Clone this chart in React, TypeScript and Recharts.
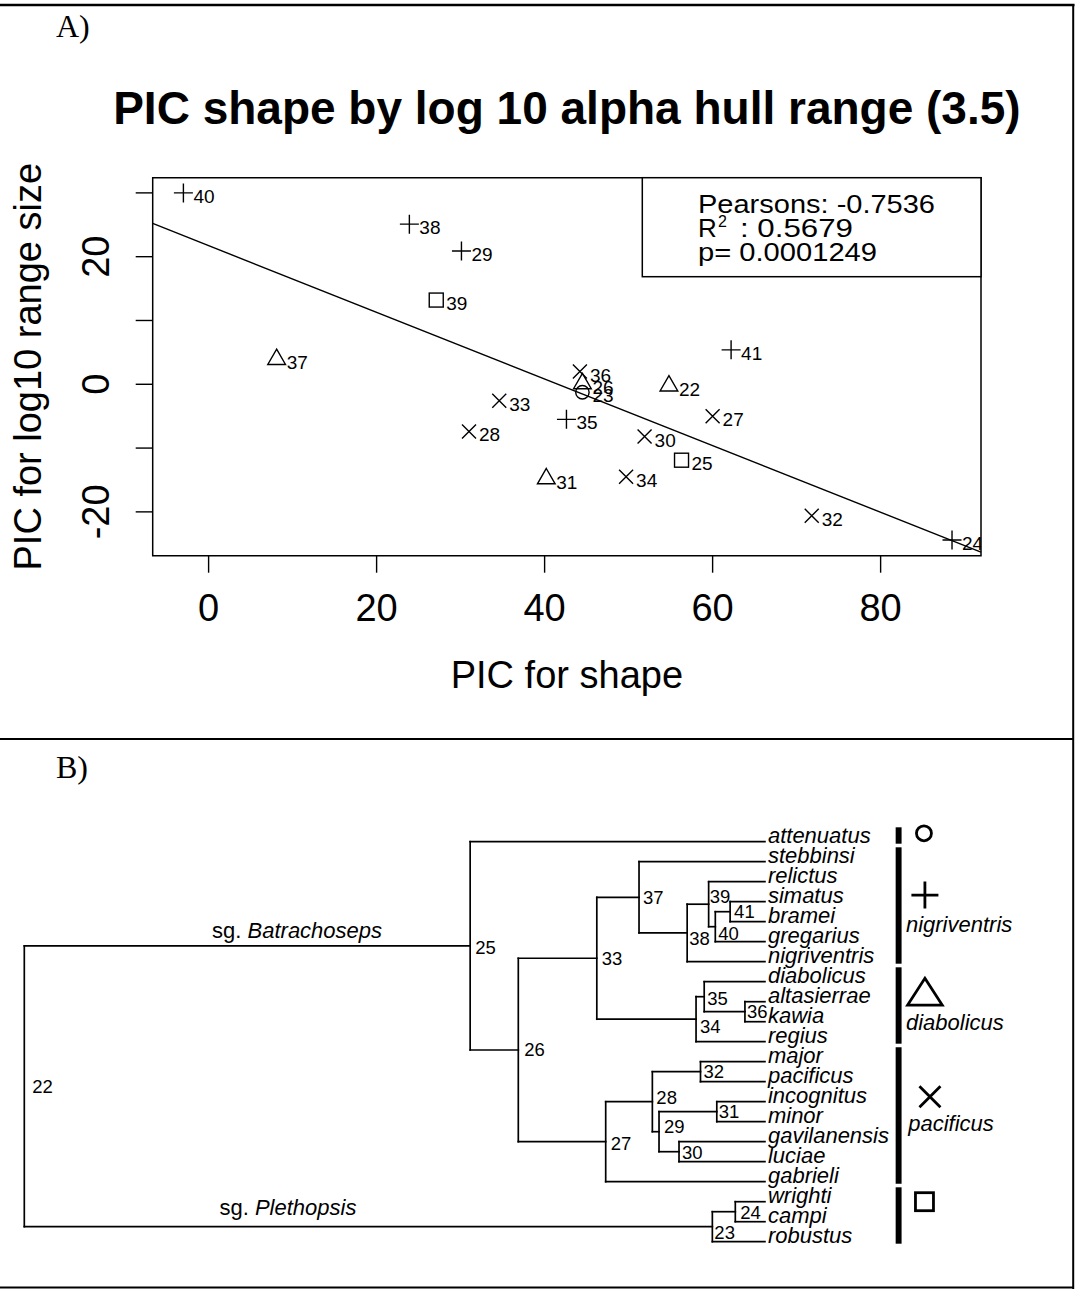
import React from 'react';
import { ScatterChart, Scatter, XAxis, YAxis, ReferenceLine, ReferenceArea, ReferenceDot } from 'recharts';

const SANS = '"Liberation Sans", Arial, Helvetica, sans-serif';
const SERIF = '"Liberation Serif", "Times New Roman", Times, serif';

// ---------------- Panel A data ----------------
const pointIds = [40, 38, 29, 39, 37, 36, 26, 23, 22, 41, 33, 28, 35, 27, 30, 25, 31, 34, 32, 24];
const picShape = [-3.0, 23.9, 30.1, 27.1, 8.1, 44.2, 44.5, 44.5, 54.8, 62.2, 34.6, 31.0, 42.6, 60.0, 51.9, 56.3, 40.2, 49.7, 71.8, 88.5];
const picRange = [30.0, 25.1, 20.9, 13.2, 3.9, 2.0, 0.1, -1.25, -0.25, 5.4, -2.6, -7.4, -5.5, -5.0, -8.2, -11.9, -14.8, -14.5, -20.6, -24.4];
const pointSymbols = ['plus', 'plus', 'plus', 'square', 'triangle', 'cross', 'triangle', 'circle', 'triangle', 'plus', 'cross', 'cross', 'plus', 'cross', 'cross', 'square', 'triangle', 'cross', 'cross', 'plus'];
const xTicksA = [0, 20, 40, 60, 80];
const yTicksA = [-20, -10, 0, 10, 20, 30];
const yTickLabelsA = [-20, 0, 20];
const xDomainA = [-6.655, 91.95];
const yDomainA = [-26.87, 32.38];
const fitIntercept = 21.73;
const fitSlope = -0.5224;
const pearsonText = 'Pearsons: -0.7536';
const rSquaredText = ': 0.5679';
const pValueText = 'p= 0.0001249';
const titleA = 'PIC shape by log 10 alpha hull range (3.5)';
const xLabelA = 'PIC for shape';
const yLabelA = 'PIC for log10 range size';

// ---------------- Panel B data ----------------
const tipNames = ['attenuatus', 'stebbinsi', 'relictus', 'simatus', 'bramei', 'gregarius', 'nigriventris', 'diabolicus', 'altasierrae', 'kawia', 'regius', 'major', 'pacificus', 'incognitus', 'minor', 'gavilanensis', 'luciae', 'gabrieli', 'wrighti', 'campi', 'robustus'];
const internalNodes = [22, 25, 26, 33, 37, 38, 39, 40, 41, 34, 35, 36, 27, 28, 32, 29, 31, 30, 23, 24];
const nodeChildren: (number | string)[][] = [
  [25, 23], ['attenuatus', 26], [33, 27], [37, 34], ['stebbinsi', 38], [39, 'nigriventris'], ['relictus', 40], [41, 'gregarius'], ['simatus', 'bramei'],
  [35, 'regius'], ['diabolicus', 36], ['altasierrae', 'kawia'], [28, 'gabrieli'], [32, 29], ['major', 'pacificus'], [31, 30], ['incognitus', 'minor'], ['gavilanensis', 'luciae'],
  [24, 'robustus'], ['wrighti', 'campi'],
];
const nodeDepth = [0, 0.602, 0.667, 0.773, 0.830, 0.895, 0.924, 0.933, 0.953, 0.907, 0.918, 0.973, 0.785, 0.848, 0.913, 0.857, 0.935, 0.884, 0.929, 0.960];
const tipDepth = 1;
const cladeNames = ['', 'nigriventris', 'diabolicus', 'pacificus', ''];
const cladeSymbols = ['circle', 'plus', 'triangle', 'cross', 'square'];
const cladeFirstTip = [0, 1, 7, 11, 18];
const cladeLastTip = [0, 6, 10, 17, 20];
const subgenusNames = ['Batrachoseps', 'Plethopsis'];

// ---------------- Layout (positions only) ----------------
const nodeLabelNudge: Record<number, [number, number]> = {
  22: [8, 0], 25: [5, 2], 26: [6, 0], 33: [5, 0], 37: [4, 0], 38: [2, 6], 39: [1, -8], 40: [3, 7], 41: [4, 0],
  34: [4, 7], 35: [3, 2], 36: [2, 0], 27: [5, 2], 28: [4, -4], 29: [5, -5], 30: [3, 1], 31: [2, 0], 32: [3, 0], 23: [2, 6], 24: [5, 1],
};
const cladeBarX = [1.1765, 1.1845];
const cladeSymbolPos: [number, number][] = [[1.2147, -0.42], [1.216, 2.67], [1.216, 7.5], [1.2228, 12.75], [1.2154, 18.0]];
const cladeLabelPos: [number, number][] = [[0, 0], [1.1904, 4.5], [1.1904, 9.42], [1.1935, 14.45], [0, 0]];
const subgenusLabelPos: [number, number][] = [[0.3683, 4.83], [0.356, 18.67]];

// ---------------- helpers ----------------
const childrenOf = new Map<number, (number | string)[]>(internalNodes.map((n, i) => [n, nodeChildren[i]]));
const depthOf = new Map<number, number>(internalNodes.map((n, i) => [n, nodeDepth[i]]));
function yOf(k: number | string): number {
  if (typeof k === 'string') return tipNames.indexOf(k);
  const ch = childrenOf.get(k)!;
  return (yOf(ch[0]) + yOf(ch[ch.length - 1])) / 2;
}
function xOf(k: number | string): number {
  return typeof k === 'string' ? tipDepth : (depthOf.get(k) as number);
}

type Dims = { plus: number; cross: number; square: number; circle: number; triW: number; triTop: number; triBot: number; sw: number };
const dimsA: Dims = { plus: 9.5, cross: 7, square: 7, circle: 6.7, triW: 8.85, triTop: 10.2, triBot: 5.1, sw: 1.4 };
const dimsB: Dims = { plus: 13.5, cross: 10.5, square: 9, circle: 7.5, triW: 17.3, triTop: 13.35, triBot: 13.35, sw: 2.8 };

function drawSymbol(sym: string, cx: number, cy: number, d: Dims) {
  const common = { fill: 'none', stroke: '#000', strokeWidth: d.sw };
  switch (sym) {
    case 'plus':
      return <path d={`M${cx - d.plus},${cy}H${cx + d.plus}M${cx},${cy - d.plus}V${cy + d.plus}`} {...common} />;
    case 'cross':
      return <path d={`M${cx - d.cross},${cy - d.cross}L${cx + d.cross},${cy + d.cross}M${cx - d.cross},${cy + d.cross}L${cx + d.cross},${cy - d.cross}`} {...common} />;
    case 'square':
      return <rect x={cx - d.square} y={cy - d.square} width={2 * d.square} height={2 * d.square} {...common} />;
    case 'circle':
      return <circle cx={cx} cy={cy} r={d.circle} {...common} />;
    case 'triangle':
      return <path d={`M${cx},${cy - d.triTop}L${cx + d.triW},${cy + d.triBot}L${cx - d.triW},${cy + d.triBot}Z`} {...common} strokeLinejoin="miter" />;
    default:
      return null;
  }
}

const renderPointA = (props: any) => {
  const { cx, cy, payload } = props;
  return (
    <g>
      {drawSymbol(payload.symbol, cx, cy, dimsA)}
      <text x={cx + 10} y={cy + 10} fontSize={19} fontFamily={SANS} fill="#000">{payload.id}</text>
    </g>
  );
};

const renderYTickA = (props: any) => {
  const { x, y, payload } = props;
  if (!yTickLabelsA.includes(payload.value)) return <g />;
  return (
    <text x={x} y={y} transform={`rotate(-90 ${x} ${y})`} textAnchor="middle" fontSize={38} fontFamily={SANS} fill="#000">
      {payload.value}
    </text>
  );
};

const renderTip = (props: any) => {
  const { cx, cy, payload } = props;
  return (
    <text x={cx + 3} y={cy + 1} fontSize={22} fontStyle="italic" fontFamily={SANS} fill="#000">{payload.name}</text>
  );
};

const renderNodeLabel = (props: any) => {
  const { cx, cy, payload } = props;
  const [dx, dy] = nodeLabelNudge[payload.id] || [5, 0];
  return (
    <text x={cx + dx} y={cy + dy} dominantBaseline="central" fontSize={18.5} fontFamily={SANS} fill="#000">{payload.id}</text>
  );
};

export default function App() {
  const pointsA = pointIds.map((id, i) => ({ id, x: picShape[i], y: picRange[i], symbol: pointSymbols[i] }));
  const fitSeg = [
    { x: xDomainA[0], y: fitIntercept + fitSlope * xDomainA[0] },
    { x: xDomainA[1], y: fitIntercept + fitSlope * xDomainA[1] },
  ];

  const tipsData = tipNames.map((name, i) => ({ x: tipDepth, y: i, name }));
  const nodesData = internalNodes.map((id) => ({ x: xOf(id), y: yOf(id), id }));
  const segments: { x: number; y: number }[][] = [];
  internalNodes.forEach((n) => {
    const ch = childrenOf.get(n)!;
    const x = xOf(n);
    segments.push([{ x, y: yOf(ch[0]) }, { x, y: yOf(ch[ch.length - 1]) }]);
    ch.forEach((c) => segments.push([{ x, y: yOf(c) }, { x: xOf(c), y: yOf(c) }]));
  });

  return (
    <div style={{ position: 'absolute', left: 0, top: 0, width: 1076, height: 1289, background: '#fff', overflow: 'hidden', fontFamily: SANS }}>
      {/* Panel A */}
      <div style={{ position: 'absolute', left: 0, top: 0 }}>
        <ScatterChart width={1076} height={739} margin={{ top: 177.7, right: 95, bottom: 83.3, left: 0 }}>
          <XAxis
            type="number" dataKey="x" domain={xDomainA} allowDataOverflow ticks={xTicksA} interval={0}
            axisLine={false} tickSize={17} tickMargin={21} height={100} stroke="#000"
            tickLine={{ stroke: '#000', strokeWidth: 1.4 }}
            tick={{ fontSize: 38, fill: '#000', fontFamily: SANS }}
          />
          <YAxis
            type="number" dataKey="y" domain={yDomainA} allowDataOverflow ticks={yTicksA} interval={0}
            axisLine={false} tickSize={17} tickMargin={26.7} width={152.7} stroke="#000"
            tickLine={{ stroke: '#000', strokeWidth: 1.4 }}
            tick={renderYTickA}
          />
          <ReferenceArea x1={xDomainA[0]} x2={xDomainA[1]} y1={yDomainA[0]} y2={yDomainA[1]} fill="none" fillOpacity={0} stroke="#000" strokeWidth={1.5} ifOverflow="visible" />
          <ReferenceLine segment={fitSeg} stroke="#000" strokeWidth={1.4} ifOverflow="visible" />
          <Scatter data={pointsA} shape={renderPointA} isAnimationActive={false} />
        </ScatterChart>
      </div>

      {/* Panel B */}
      <div style={{ position: 'absolute', left: 0, top: 740 }}>
        <ScatterChart width={1076} height={549} margin={{ top: 71.7, right: 0, bottom: 27.3, left: 24.3 }}>
          <XAxis type="number" dataKey="x" domain={[0, 1.42]} allowDataOverflow hide />
          <YAxis type="number" dataKey="y" domain={[-1.5, 21]} allowDataOverflow reversed hide />
          {segments.map((seg, i) => (
            <ReferenceLine key={`e${i}`} segment={seg} stroke="#000" strokeWidth={1.7} strokeLinecap="square" ifOverflow="visible" />
          ))}
          {cladeFirstTip.map((f, i) => (
            <ReferenceArea key={`bar${i}`} x1={cladeBarX[0]} x2={cladeBarX[1]} y1={f - 0.72} y2={cladeLastTip[i] + 0.1} fill="#000" fillOpacity={1} stroke="none" ifOverflow="visible" />
          ))}
          {cladeSymbols.map((s, i) => (
            <ReferenceDot key={`sym${i}`} x={cladeSymbolPos[i][0]} y={cladeSymbolPos[i][1]} ifOverflow="visible"
              shape={(p: any) => drawSymbol(s, p.cx, p.cy, dimsB)} />
          ))}
          {cladeNames.map((n, i) => n ? (
            <ReferenceDot key={`cl${i}`} x={cladeLabelPos[i][0]} y={cladeLabelPos[i][1]} ifOverflow="visible"
              shape={(p: any) => <text x={p.cx} y={p.cy} fontSize={22} fontStyle="italic" fontFamily={SANS} fill="#000">{n}</text>} />
          ) : null)}
          {subgenusNames.map((n, i) => (
            <ReferenceDot key={`sg${i}`} x={subgenusLabelPos[i][0]} y={subgenusLabelPos[i][1]} ifOverflow="visible"
              shape={(p: any) => (
                <text x={p.cx} y={p.cy} textAnchor="middle" fontSize={22} fontFamily={SANS} fill="#000">
                  <tspan>sg. </tspan><tspan fontStyle="italic">{n}</tspan>
                </text>
              )} />
          ))}
          <Scatter data={tipsData} shape={renderTip} isAnimationActive={false} />
          <Scatter data={nodesData} shape={renderNodeLabel} isAnimationActive={false} />
        </ScatterChart>
      </div>

      {/* Frame, titles, legend */}
      <svg width={1076} height={1289} style={{ position: 'absolute', left: 0, top: 0, pointerEvents: 'none' }}>
        <line x1={0} y1={5} x2={1074.5} y2={5} stroke="#000" strokeWidth={2.6} />
        <line x1={1073.2} y1={4} x2={1073.2} y2={1289} stroke="#000" strokeWidth={2} />
        <line x1={0} y1={739} x2={1074} y2={739} stroke="#000" strokeWidth={2} />
        <line x1={0} y1={1287.5} x2={1074} y2={1287.5} stroke="#000" strokeWidth={2} />
        <text x={56} y={37} fontSize={32} fontFamily={SERIF} fill="#000">A)</text>
        <text x={56} y={778} fontSize={32} fontFamily={SERIF} fill="#000">B)</text>

        <text x={566.9} y={124} textAnchor="middle" fontSize={46} fontWeight="bold" fontFamily={SANS} fill="#000">{titleA}</text>
        <text x={566.9} y={688.3} textAnchor="middle" fontSize={38} fontFamily={SANS} fill="#000">{xLabelA}</text>
        <text x={41} y={366.7} transform="rotate(-90 41 366.7)" textAnchor="middle" fontSize={38} fontFamily={SANS} fill="#000">{yLabelA}</text>

        <rect x={642.3} y={177.7} width={981 - 642.3} height={99} fill="#fff" stroke="#000" strokeWidth={1.5} />
        <text x={698} y={213} fontSize={26} fontFamily={SANS} fill="#000" textLength={237} lengthAdjust="spacingAndGlyphs">{pearsonText}</text>
        <text x={698} y={237} fontSize={26} fontFamily={SANS} fill="#000">R</text>
        <text x={718} y={227} fontSize={16} fontFamily={SANS} fill="#000">2</text>
        <text x={740} y={237} fontSize={26} fontFamily={SANS} fill="#000" textLength={113} lengthAdjust="spacingAndGlyphs">{rSquaredText}</text>
        <text x={698} y={261} fontSize={26} fontFamily={SANS} fill="#000" textLength={179} lengthAdjust="spacingAndGlyphs">{pValueText}</text>
      </svg>
    </div>
  );
}
